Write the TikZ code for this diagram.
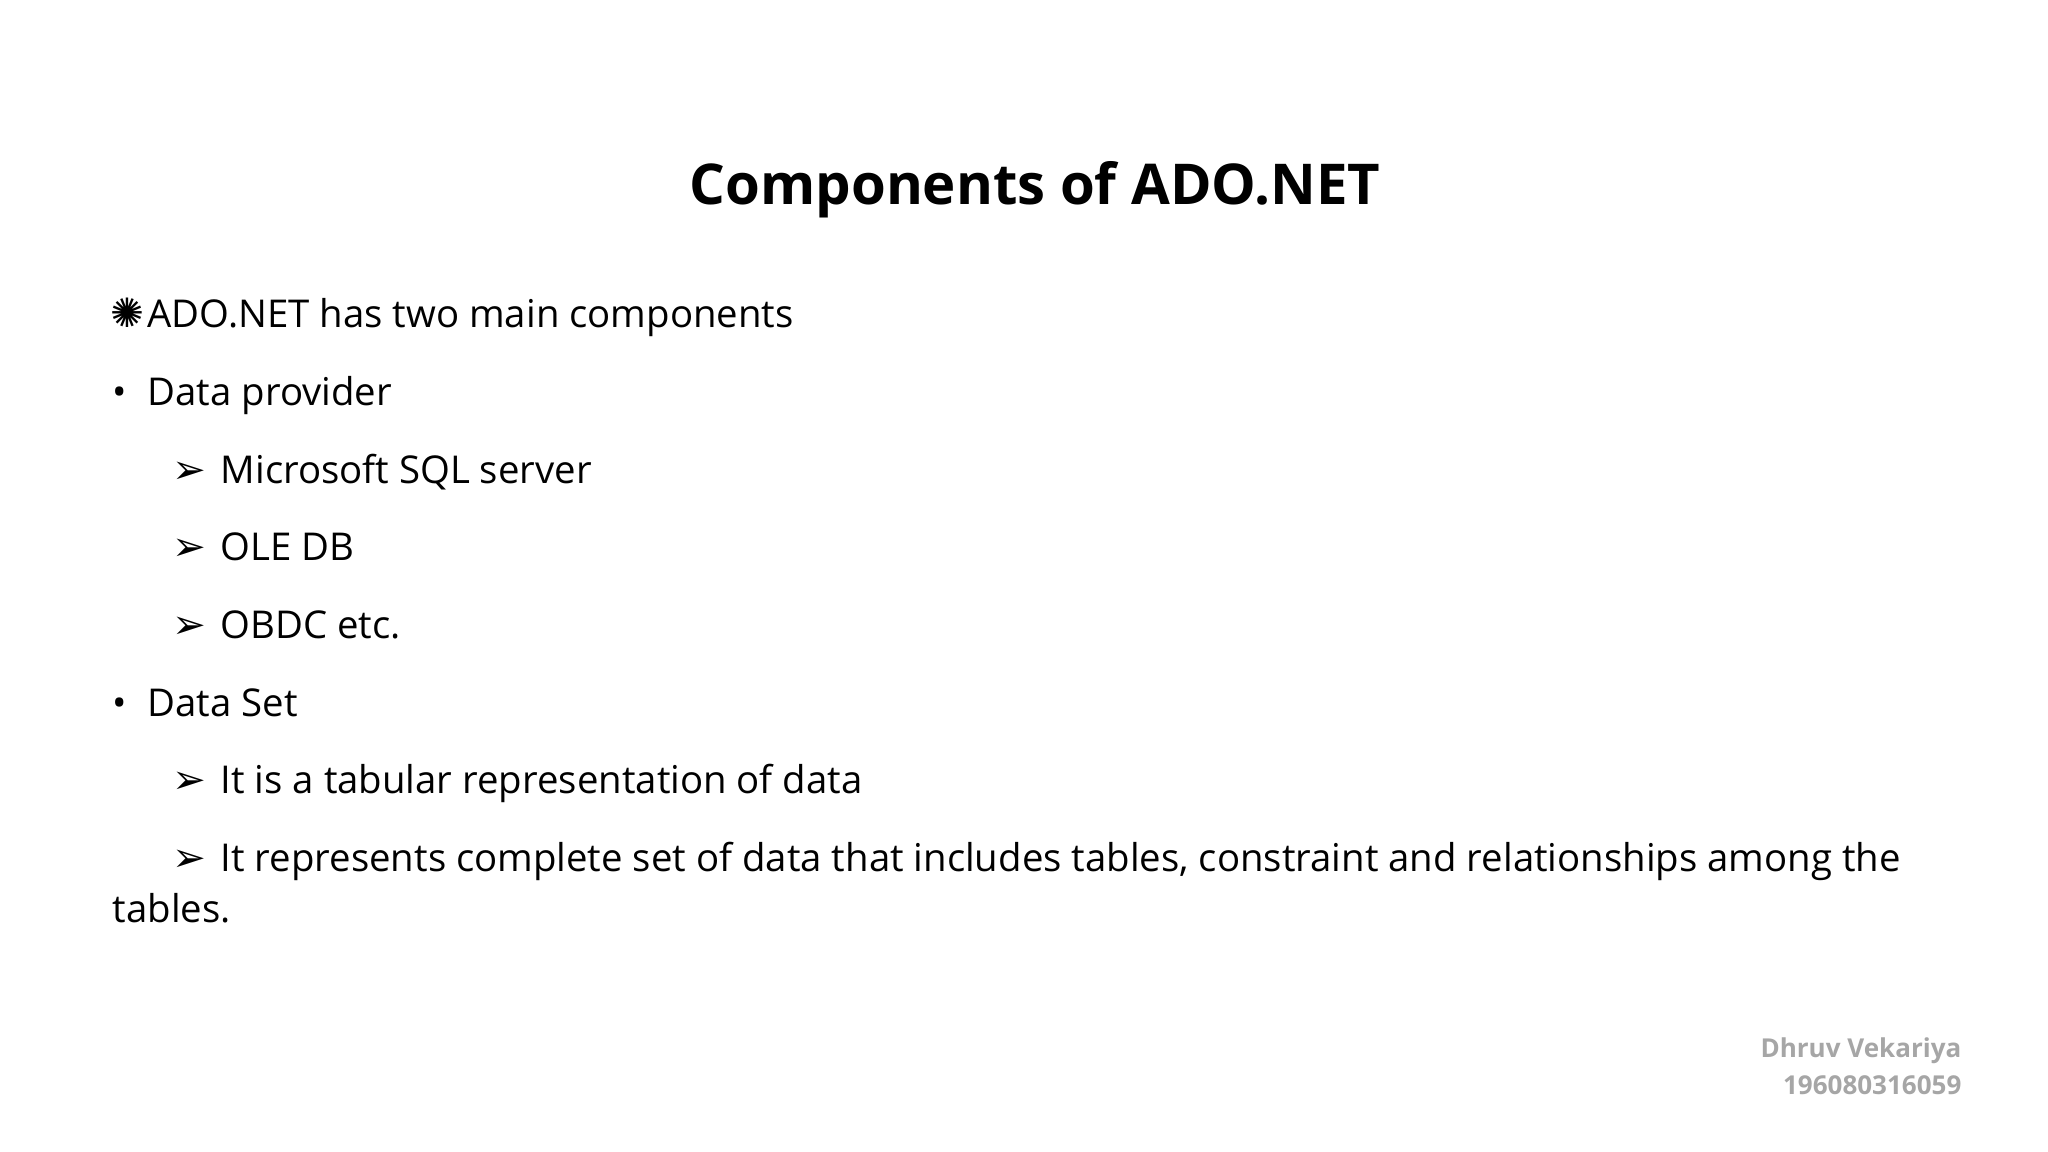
\documentclass[tikz,border=0pt]{standalone}
\usepackage{fontspec}
\setmainfont{Open Sans}
\newfontfamily\symfont{DejaVu Sans}
\begin{document}
\begin{tikzpicture}[x=0.01cm,y=0.01cm,
  body/.style={anchor=base west,inner sep=0pt,font=\fontsize{10.9}{12}\selectfont},
  sym/.style={anchor=base west,inner sep=0pt,font=\symfont\fontsize{11.5}{12}\selectfont},
  foot/.style={anchor=base east,inner sep=0pt,text=black!35,font=\bfseries\fontsize{7.4}{9}\selectfont}]
\useasboundingbox (0,0) rectangle (2048,1152);
\node[anchor=base,inner sep=0pt,font=\bfseries\fontsize{16}{20}\selectfont] (title) at (1035,947) {Components of ADO.NET};
\node[sym] (s0) at (110,824) {✺};
\node[body] (l0) at (147,824) {ADO.NET has two main components};
\node[body] (b1) at (112,746) {•};
\node[body] (l1) at (147,746) {Data provider};
\node[sym] (a1) at (172,668) {➢};
\node[body] (l2) at (220,668) {Microsoft SQL server};
\node[sym] (a2) at (172,591) {➢};
\node[body] (l3) at (220,591) {OLE DB};
\node[sym] (a3) at (172,513) {➢};
\node[body] (l4) at (220,513) {OBDC etc.};
\node[body] (b2) at (112,435) {•};
\node[body] (l5) at (147,435) {Data Set};
\node[sym] (a4) at (172,358) {➢};
\node[body] (l6) at (220,358) {It is a tabular representation of data};
\node[sym] (a5) at (172,280) {➢};
\node[body] (l7) at (220,280) {It represents complete set of data that includes tables, constraint and relationships among the};
\node[body] (l8) at (112,229) {tables.};
\node[foot] (f1) at (1962,1152-1058) {Dhruv Vekariya};
\node[foot] (f2) at (1962,1152-1095) {196080316059};
\end{tikzpicture}
\end{document}
